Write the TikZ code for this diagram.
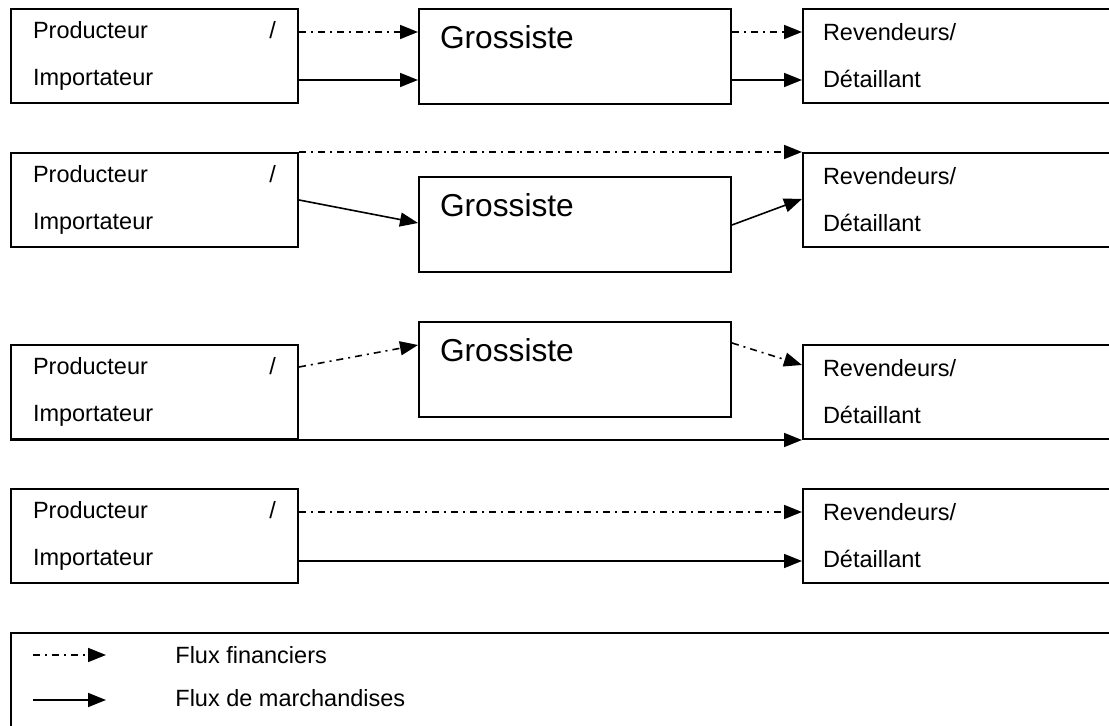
\documentclass[tikz,border=0pt]{standalone}
\usepackage{fontspec}
\setmainfont{Liberation Sans}
\usetikzlibrary{arrows.meta, calc}

\begin{document}
\begin{tikzpicture}[
  x=0.5pt, y=-0.5pt,
  every node/.style={font=\fontsize{11.75}{23.5}\selectfont},
  acteur/.style={rectangle, draw, line width=1pt, anchor=north west, minimum width=143.5pt, minimum height=47pt, inner xsep=11pt, text width=121.5pt, align=left},
  revendeur/.style={acteur, minimum width=165pt, inner xsep=10pt, text width=145pt},
  grossiste/.style={acteur, minimum width=156pt, minimum height=47.5pt, inner xsep=10.5pt, text width=135pt, font=\fontsize{15.85}{19}\selectfont},
  marchandise/.style={-{Triangle[length=9pt,width=7pt]}, line width=0.8pt},
  finance/.style={marchandise, dash pattern=on 3.5pt off 2.5pt on 1pt off 2.5pt},
  legtext/.style={anchor=west, inner sep=0pt}
]
\useasboundingbox (0,0) rectangle (1109,726);

% Circuit long
\node[acteur] (prodA) at (10,8) {Producteur \hfill /\hspace*{2.5pt}\\Importateur};
\node[grossiste] (grosA) at (418,8) {Grossiste\\~};
\node[revendeur] (revA) at (802,8) {Revendeurs/\\D\'etaillant};

% Circuit mixte
\node[acteur] (prodB) at (10,152) {Producteur \hfill /\hspace*{2.5pt}\\Importateur};
\node[grossiste] (grosB) at (418,176) {Grossiste\\~};
\node[revendeur] (revB) at (802,152) {Revendeurs/\\D\'etaillant};

% Circuit mixte (inverse)
\node[grossiste] (grosC) at (418,321) {Grossiste\\~};
\node[acteur] (prodC) at (10,344) {Producteur \hfill /\hspace*{2.5pt}\\Importateur};
\node[revendeur] (revC) at (802,344) {Revendeurs/\\D\'etaillant};

% Circuit court
\node[acteur] (prodD) at (10,488) {Producteur \hfill /\hspace*{2.5pt}\\Importateur};
\node[revendeur] (revD) at (802,488) {Revendeurs/\\D\'etaillant};

% Legende
\node[rectangle, draw, line width=1pt, anchor=north west, minimum width=570pt, minimum height=70pt] (legende) at (10,632) {};
\coordinate (finA) at (33,655);
\coordinate (finB) at (106,655);
\coordinate (marA) at (33,700);
\coordinate (marB) at (106,700);
\node[legtext] (txtfin) at (175,655) {Flux financiers};
\node[legtext] (txtmar) at (175,698) {Flux de marchandises};

% Fleches
\draw[finance] ($(prodA.north east)+(0,24)$) -- ($(grosA.north west)+(0,24)$);
\draw[marchandise] ($(prodA.north east)+(0,72)$) -- ($(grosA.north west)+(0,72)$);
\draw[finance] ($(grosA.north east)+(0,24)$) -- ($(revA.north west)+(0,24)$);
\draw[marchandise] ($(grosA.north east)+(0,72)$) -- ($(revA.north west)+(0,72)$);

\draw[finance] (prodB.north east) -- (revB.north west);
\draw[marchandise] ($(prodB.north east)+(0,48)$) -- ($(grosB.north west)+(0,47)$);
\draw[marchandise] ($(grosB.north east)+(0,49)$) -- ($(revB.north west)+(0,47)$);

\draw[finance] ($(prodC.north east)+(0,23)$) -- ($(grosC.north west)+(0,24)$);
\draw[finance] ($(grosC.north east)+(0,22)$) -- ($(revC.north west)+(0,21)$);
\draw[marchandise] (prodC.south west) -- (revC.south west);

\draw[finance] ($(prodD.north east)+(0,24)$) -- ($(revD.north west)+(0,24)$);
\draw[marchandise] ($(prodD.north east)+(0,73)$) -- ($(revD.north west)+(0,73)$);

\draw[finance] (finA) -- (finB);
\draw[marchandise] (marA) -- (marB);

\end{tikzpicture}
\end{document}
